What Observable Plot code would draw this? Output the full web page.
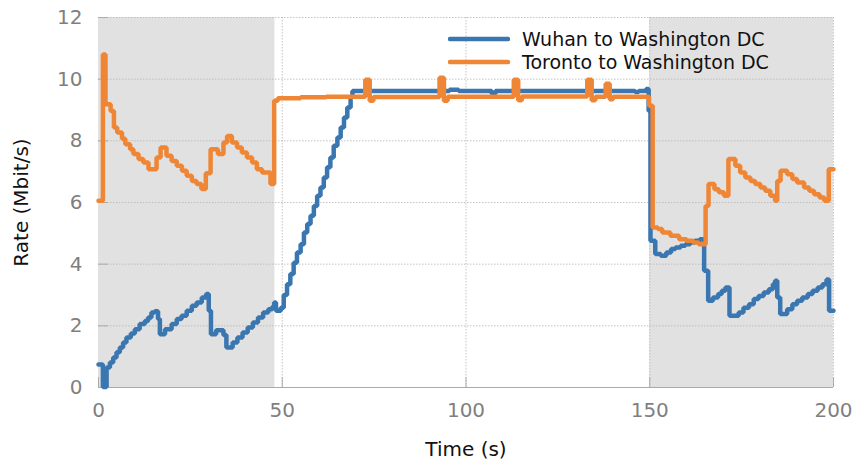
<!DOCTYPE html>
<html>
<head>
<meta charset="utf-8">
<script src="https://cdn.jsdelivr.net/npm/d3@7"></script>
<script src="https://cdn.jsdelivr.net/npm/@observablehq/plot@0.6"></script>
<style>
  html, body { margin: 0; padding: 0; background: #fff; }
  #wrap { position: relative; width: 860px; height: 462px; font-family: "DejaVu Sans", sans-serif; }
  #legend { position: absolute; left: 448px; top: 27px; font-size: 19px; color: #111; }
  .row { display: flex; align-items: center; height: 23px; }
  .row svg { margin-right: 12px; }
  g[aria-label="x-axis tick label"], g[aria-label="y-axis tick label"] { fill: #7f7f7f; }
  g[aria-label="x-axis tick"], g[aria-label="y-axis tick"] { stroke: #aaa; }
  g[aria-label="x-axis label"], g[aria-label="y-axis label"] { fill: #111; }
</style>
</head>
<body>
<div id="wrap">
  <div id="chart"></div>
  <div id="legend"></div>
</div>
<script>
const seriesNames = ["Wuhan to Washington DC", "Toronto to Washington DC"];
const seriesColors = ["#3a76b0", "#ef8636"];

const wuhanT = [0, 1.2, 2.2, 3.1, 4.0, 4.9, 5.8, 6.7, 7.6, 8.8, 9.9, 11.2, 12.6, 13.5, 14.4, 15.3, 16.2, 16.7, 18.1, 19.9, 21.3, 22.6, 24.0, 25.4, 26.7, 28.1, 29.3, 30.0, 30.6, 32.0, 34.0, 34.8, 36.5, 37.8, 39.2, 40.6, 42.0, 43.4, 44.8, 46.2, 47.3, 47.8, 48.3, 49.6, 50.4, 51.3, 52.2, 53.1, 54.0, 55.0, 55.9, 56.8, 57.7, 58.6, 59.5, 60.4, 61.3, 62.2, 63.1, 64.0, 65.0, 65.9, 66.8, 67.7, 68.6, 69.1, 95.5, 98, 107, 108, 146, 147, 149, 149.7, 150.2, 151.5, 153, 154.5, 155.8, 157, 158.4, 159.7, 161, 162.3, 163.6, 164.8, 165.9, 167.2, 168.6, 169.6, 170.6, 171.7, 174.2, 175.5, 177, 178.3, 179.6, 181, 182.4, 183.5, 184.1, 184.7, 185.5, 187.4, 188.8, 190.1, 191.5, 193, 194.3, 195.7, 197, 198.1, 198.8, 200];
const wuhanV = [0.75, 0.02, 0.65, 0.81, 0.97, 1.14, 1.30, 1.46, 1.62, 1.75, 1.89, 2.06, 2.16, 2.27, 2.43, 2.47, 2.22, 1.73, 1.89, 2.06, 2.22, 2.33, 2.49, 2.65, 2.76, 2.92, 3.03, 2.49, 1.73, 1.86, 1.70, 1.30, 1.46, 1.62, 1.78, 1.95, 2.11, 2.27, 2.43, 2.54, 2.62, 2.76, 2.49, 2.59, 3.00, 3.35, 3.68, 4.05, 4.38, 4.65, 5.03, 5.30, 5.57, 5.89, 6.22, 6.49, 6.81, 7.14, 7.46, 7.84, 8.11, 8.43, 8.76, 9.08, 9.41, 9.62, 9.66, 9.62, 9.53, 9.62, 9.58, 9.62, 9.68, 8.97, 4.76, 4.33, 4.27, 4.38, 4.49, 4.54, 4.60, 4.65, 4.70, 4.76, 4.81, 3.79, 2.81, 2.92, 3.03, 3.14, 3.24, 2.33, 2.43, 2.59, 2.70, 2.87, 2.97, 3.08, 3.19, 3.35, 3.46, 2.92, 2.38, 2.54, 2.70, 2.81, 2.92, 3.03, 3.14, 3.24, 3.35, 3.50, 2.49, 2.49];

const torontoT = [0, 1.2, 1.9, 3.3, 4.2, 5.1, 6.4, 7.3, 8.6, 9.5, 10.9, 12.2, 13.6, 15.8, 16.9, 18.5, 19.9, 21.3, 22.7, 24.0, 25.4, 26.7, 28.0, 29.2, 30.5, 32.5, 34.0, 35.0, 36.3, 37.7, 39.0, 40.4, 41.8, 43.1, 44.5, 46.8, 47.8, 48.8, 55, 62, 72.6, 73.8, 74.8, 92.8, 94, 95, 113, 114.2, 115.2, 133, 134.2, 135.2, 138, 139.1, 140, 149.8, 150.8, 152.2, 153.4, 155.6, 158, 160, 161.8, 163.3, 165.2, 166.0, 167.6, 168.8, 170.2, 171.4, 173.3, 174.6, 176.0, 177.4, 178.7, 180.1, 181.4, 182.8, 184.1, 184.7, 185.6, 187.4, 188.8, 190.1, 192.0, 193.4, 194.7, 196.2, 197.5, 198.7, 200];
const torontoV = [6.06, 10.8, 9.19, 8.97, 8.43, 8.27, 8.07, 7.89, 7.73, 7.57, 7.41, 7.30, 7.08, 7.46, 7.78, 7.52, 7.35, 7.19, 7.03, 6.87, 6.70, 6.60, 6.44, 6.95, 7.73, 7.57, 7.95, 8.16, 7.95, 7.78, 7.62, 7.46, 7.30, 7.08, 6.97, 6.60, 9.30, 9.38, 9.41, 9.43, 9.98, 9.30, 9.42, 10.05, 9.30, 9.43, 9.98, 9.32, 9.44, 9.98, 9.32, 9.43, 9.85, 9.35, 9.43, 9.14, 5.19, 5.14, 5.03, 4.92, 4.81, 4.76, 4.70, 4.65, 5.89, 6.60, 6.43, 6.33, 6.22, 7.41, 7.19, 6.97, 6.81, 6.70, 6.60, 6.49, 6.38, 6.22, 6.06, 6.70, 7.03, 6.92, 6.76, 6.65, 6.49, 6.38, 6.27, 6.16, 6.06, 7.08, 7.08];

const shadeStart = [0, 150];
const shadeEnd = [48, 200];
const xTicks = [0, 50, 100, 150, 200];
const yTicks = [0, 2, 4, 6, 8, 10, 12];

const wuhan = wuhanT.map((t, i) => ({t, v: wuhanV[i]}));
const toronto = torontoT.map((t, i) => ({t, v: torontoV[i]}));
const shades = shadeStart.map((s, i) => ({x1: s, x2: shadeEnd[i]}));

const chart = Plot.plot({
  width: 860,
  height: 462,
  marginTop: 17,
  marginRight: 27,
  marginBottom: 75,
  marginLeft: 98,
  style: {fontFamily: "DejaVu Sans, sans-serif", background: "#fff"},
  x: {domain: [0, 200]},
  y: {domain: [0, 12]},
  marks: [
    Plot.rect(shades, {x1: "x1", x2: "x2", y1: 0, y2: 12, fill: "#e1e1e1"}),
    Plot.gridY(yTicks.filter(d => d > 0), {stroke: "#b5b5b5", strokeOpacity: 1, strokeDasharray: "1.5,1.5", strokeWidth: 0.8}),
    Plot.gridX(xTicks.filter(d => d > 0), {stroke: "#b5b5b5", strokeOpacity: 1, strokeDasharray: "1.5,1.5", strokeWidth: 0.8}),
    Plot.ruleY([0], {stroke: "#aaa", strokeWidth: 1.2}),
    Plot.axisX(xTicks, {tickSize: -10, tickPadding: 25, fontSize: 20, label: "Time (s)", labelAnchor: "center", labelArrow: "none", labelOffset: 68}),
    Plot.axisY(yTicks, {tickSize: -10, tickPadding: 26, fontSize: 20, label: "Rate (Mbit/s)", labelAnchor: "center", labelArrow: "none", labelOffset: 85}),
    Plot.line(wuhan, {x: "t", y: "v", curve: "step-after", stroke: seriesColors[0], strokeWidth: 4.5, strokeLinejoin: "miter"}),
    Plot.line(toronto, {x: "t", y: "v", curve: "step-after", stroke: seriesColors[1], strokeWidth: 4.5, strokeLinejoin: "miter"})
  ]
});
document.getElementById("chart").appendChild(chart);

const legend = document.getElementById("legend");
seriesNames.forEach((name, i) => {
  const row = document.createElement("div");
  row.className = "row";
  row.innerHTML = `<svg width="62" height="8"><line x1="2" y1="4" x2="60" y2="4" stroke="${seriesColors[i]}" stroke-width="4.5" stroke-linecap="round"/></svg><span>${name}</span>`;
  legend.appendChild(row);
});
</script>
</body>
</html>
